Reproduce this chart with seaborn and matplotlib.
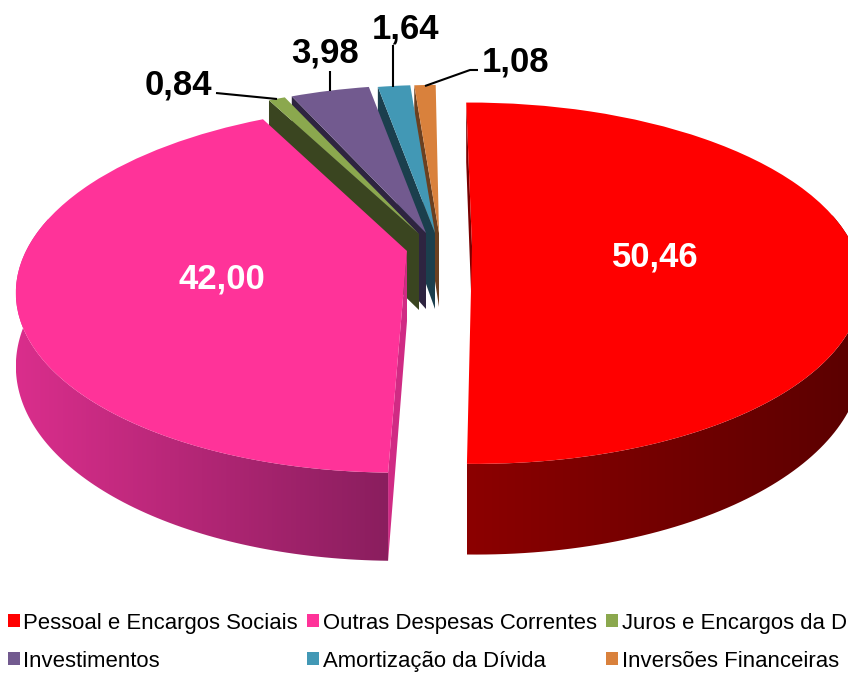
import numpy as np
import matplotlib
matplotlib.use('Agg')
import matplotlib.pyplot as plt
import matplotlib.transforms as mtransforms
from matplotlib.patches import Patch, Polygon
import seaborn as sns

# chart data
categories = ['Pessoal e Encargos Sociais', 'Outras Despesas Correntes', 'Juros e Encargos da Dívida',
              'Investimentos', 'Amortização da Dívida', 'Inversões Financeiras']
values = [50.46, 42.00, 0.84, 3.98, 1.64, 1.08]

top_colors = ['#FF0000', '#FF3399', '#8BA84E', '#725A8F', '#4298B5', '#D9813C']
cut_colors = ['#7A0000', '#D02B84', '#3A4520', '#2E2440', '#1B3F4D', '#6B4020']

# layout in pixels: where each exploded slice has its tip, and how it is skewed
tips = [(472, 246), (407, 251), (419, 234), (426, 233), (435, 233), (439, 233)]
heights = [173, 176, 178.6, 178.6, 178.6, 178.6]
skews = [-3, 8, 0, 0, 0, 0]
depths = [72, 70, 76, 76, 76, 74]
WIDTH = 381
PERSP = 0.206

label_pos = [(655, 257), (222, 279), (178, 85), (325, 53), (405, 29), (516, 62)]
label_col = ['white', 'white', 'black', 'black', 'black', 'black']
leaders = [None, None,
           [(216, 93), (277, 99)],
           [(330, 71), (330, 91)],
           [(393, 45), (393, 87)],
           [(478, 70), (470, 70), (425, 86)]]


class DiscProjection(mtransforms.Transform):
    # unit disc -> screen pixels with a bit of perspective
    input_dims = 2
    output_dims = 2
    is_separable = False
    has_inverse = False

    def __init__(self, tip, height, skew):
        super().__init__()
        self.tip, self.height, self.skew = tip, height, skew

    def transform_non_affine(self, pts):
        pts = np.asarray(pts, dtype=float)
        u, v = pts[:, 0], pts[:, 1]
        w = 1 + PERSP * v
        x = self.tip[0] + (WIDTH * u + self.skew * v) / w
        y = self.tip[1] - self.height * v / w
        return np.column_stack([x, y])


def arc_points(theta1, theta2, n=160):
    t = np.radians(np.linspace(theta1, theta2, n))
    return np.column_stack([np.cos(t), np.sin(t)])


sns.set_theme(style='white')
plt.rcParams['font.family'] = ['Liberation Sans', 'DejaVu Sans']

fig = plt.figure(figsize=(8.48, 6.73), dpi=100)
ax = fig.add_axes([0, 0, 1, 1])

wedges, _ = ax.pie(values, startangle=90.6, counterclock=False,
                   colors=sns.color_palette(top_colors), wedgeprops={'linewidth': 0})

# back slices first, red and pink last
order = [5, 4, 3, 2, 1, 0]
wall_maps = {
    0: sns.blend_palette(['#8C0000', '#5A0000'], as_cmap=True),
    1: sns.blend_palette(['#DA2E8C', '#8A1E5E'], as_cmap=True),
}

for rank, i in enumerate(order):
    wedge = wedges[i]
    proj = DiscProjection(tips[i], heights[i], skews[i])
    base = 10 + rank * 5
    arc = arc_points(wedge.theta1, wedge.theta2)
    arc_xy = proj.transform_non_affine(arc)
    drop = depths[i] / (1 + PERSP * arc[:, 1])
    low_xy = arc_xy + np.column_stack([np.zeros(len(arc)), drop])
    tip = np.array(tips[i], dtype=float)
    tip_low = tip + [0, depths[i]]

    # cut face, on the clockwise start of the slice
    ax.add_patch(Polygon([tip, arc_xy[-1], low_xy[-1], tip_low], closed=True, facecolor=cut_colors[i],
                         edgecolor='none', zorder=base))

    # outer wall with its shading, only the two big slices show one
    if i in wall_maps:
        front = arc[:, 1] < 0.2
        outline = np.vstack([arc_xy[front], low_xy[front][::-1]])
        x0, x1 = outline[:, 0].min(), outline[:, 0].max()
        y0, y1 = outline[:, 1].min(), outline[:, 1].max()
        im = ax.imshow(np.linspace(0, 1, 256)[None, :], cmap=wall_maps[i], aspect='auto',
                       extent=(x0, x1, y1, y0), zorder=base + 1)
        im.set_clip_path(Polygon(outline, closed=True, transform=ax.transData))

    # top face is the pie wedge itself
    wedge.set_transform(proj + ax.transData)
    wedge.set_zorder(base + 2)

# value labels and leader lines
for i, v in enumerate(values):
    ax.text(label_pos[i][0], label_pos[i][1], f'{v:.2f}'.replace('.', ','), color=label_col[i],
            fontsize=25, fontweight='bold', ha='center', va='center', zorder=60)
    if leaders[i]:
        xs, ys = zip(*leaders[i])
        ax.plot(xs, ys, color='black', lw=1.5, zorder=50, solid_capstyle='butt')

ax.set_aspect('auto')
ax.set_xlim(0, 848)
ax.set_ylim(673, 0)
ax.axis('off')

# legend fills by column, the picture reads by row
legend_order = [0, 3, 1, 4, 2, 5]
handles = [Patch(facecolor=top_colors[i], edgecolor='none', label=categories[i]) for i in legend_order]
ax.legend(handles=handles, ncol=3, frameon=False, fontsize=15.9, loc='upper left',
          bbox_to_anchor=(1 / 848, 1 - 606 / 673), handlelength=0.55, handleheight=0.55,
          handletextpad=0.16, columnspacing=0.42, labelspacing=0.77, borderpad=0.3, borderaxespad=0,
          labelcolor='black')

fig.savefig('out.png', dpi=100)
plt.close(fig)
